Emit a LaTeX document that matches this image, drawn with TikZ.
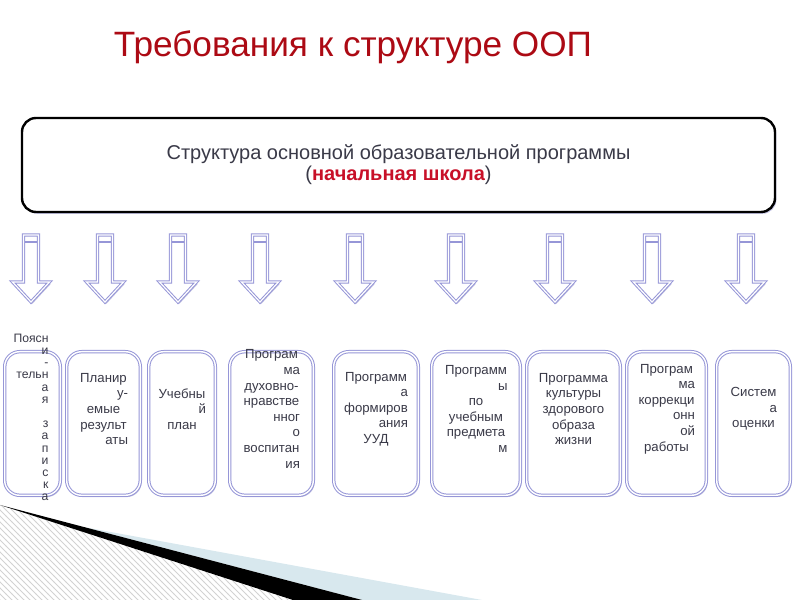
\documentclass[tikz,border=0pt]{standalone}
\usepackage{fontspec}
\setmainfont{Liberation Sans}
\usetikzlibrary{positioning, shadows, patterns}

\definecolor{titlered}{RGB}{172,10,20}
\definecolor{schoolred}{RGB}{200,16,40}
\definecolor{textgray}{RGB}{58,58,72}
\definecolor{boxline}{RGB}{150,150,215}
\definecolor{glowblue}{RGB}{100,100,180}
\definecolor{swooshblue}{RGB}{216,232,238}

\tikzset{
    glow/.style={drop shadow={shadow xshift=0.7pt, shadow yshift=-0.9pt, fill=glowblue, opacity=0.4}},
    title text/.style={text=titlered, font=\fontsize{17.6}{20}\selectfont},
    main box/.style={rectangle, rounded corners=7pt, draw=black, line width=1.2pt, fill=white, minimum width=376.5pt, minimum height=47pt, align=center, text=textgray, font=\fontsize{10}{10.5}\selectfont, glow},
    item box/.style={rectangle, rounded corners=7.5pt, draw=boxline, line width=0.5pt, double=white, double distance=0.7pt, fill=white, minimum height=71.8pt, inner sep=0pt, glow},
    item text/.style={align=center, text=textgray, inner sep=0pt, font=\fontsize{6.6}{7.8}\selectfont},
    arrow body/.style={draw=boxline, line width=0.5pt, double=white, double distance=0.6pt, fill=white, line join=miter, glow},
    arrow line/.style={draw=boxline, line width=0.6pt},
    down arrow/.pic={
        \path[arrow body] (-7.5,0) -- (7.5,0) -- (7.5,-47) -- (18.5,-47) -- (0,-67) -- (-18.5,-47) -- (-7.5,-47) -- cycle;
        \draw[arrow line] (-6,-7) -- (6,-7);
    }
}

\begin{document}
\begin{tikzpicture}[x=0.5pt, y=0.5pt]
    \useasboundingbox (0,0) rectangle (800,600);
    % corner swoosh
    \fill[pattern=north west lines, pattern color=gray!35] (0,95) -- (293,0) -- (0,0) -- cycle;
    \fill[swooshblue] (85,72.7) -- (482,0) -- (362,0) -- cycle;
    \fill[black] (0,95) -- (362,0) -- (293,0) -- cycle;

    \node[title text, anchor=base] (title) at (353,543) {Требования к структуре ООП};

    \node[main box] (head) at (398.5,435) {Структура основной образовательной программы\\(\textcolor{schoolred}{\bfseries начальная школа})};

    % arrows
    \pic (arr1) at (31,365) {down arrow};
    \pic (arr2) at (105,365) {down arrow};
    \pic (arr3) at (178,365) {down arrow};
    \pic (arr4) at (260,365) {down arrow};
    \pic (arr5) at (355,365) {down arrow};
    \pic (arr6) at (456,365) {down arrow};
    \pic (arr7) at (555,365) {down arrow};
    \pic (arr8) at (652,365) {down arrow};
    \pic (arr9) at (746,365) {down arrow};

    % boxes
    \node[item box, minimum width=27.8pt] (b1) at (32.5,176.5) {};
    \node[item box, minimum width=36.8pt, right=2.7pt of b1] (b2) {};
    \node[item box, minimum width=33.3pt, right=3.7pt of b2] (b3) {};
    \node[item box, minimum width=41.8pt, right=6.7pt of b3] (b4) {};
    \node[item box, minimum width=42.3pt, right=9.7pt of b4] (b5) {};
    \node[item box, minimum width=44.3pt, right=6.2pt of b5] (b6) {};
    \node[item box, minimum width=46.8pt, right=2.7pt of b6] (b7) {};
    \node[item box, minimum width=39.8pt, right=2.7pt of b7] (b8) {};
    \node[item box, minimum width=36.8pt, right=4.7pt of b8] (b9) {};

    \node[item text, align=right, text width=18pt, font=\fontsize{6.1}{6.1}\selectfont] (t1) at ([xshift=-1pt, yshift=3pt]b1.center)
        {Поясн\\и\\-\\тельн\\а\\я\\\mbox{}\\з\\а\\п\\и\\с\\к\\а};
    \node[item text, text width=24.5pt] (t2) at ([yshift=7.25pt]b2.center)
        {Планир\\\mbox{}\hfill у-\\емые\\результ\\\mbox{}\hfill аты};
    \node[item text, text width=24pt] (t3) at ([yshift=7.25pt]b3.center)
        {Учебны\\\mbox{}\hfill й\\план};
    \node[item text, text width=28.5pt] (t4) at ([yshift=7.25pt]b4.center)
        {Програм\\\mbox{}\hfill ма\\духовно-\\нравстве\\\mbox{}\hfill нног\\\mbox{}\hfill о\hspace{5pt}\\воспитан\\\mbox{}\hfill ия};
    \node[item text, text width=32pt] (t5) at ([yshift=7.25pt]b5.center)
        {Программ\\\mbox{}\hfill а\\формиров\\\mbox{}\hfill ания\\УУД};
    \node[item text, text width=31.5pt] (t6) at ([yshift=7.25pt]b6.center)
        {Программ\\\mbox{}\hfill ы\\по\\учебным\\предмета\\\mbox{}\hfill м};
    \node[item text, text width=35pt] (t7) at ([yshift=7.25pt]b7.center)
        {Программа\\культуры\\здорового\\образа\\жизни};
    \node[item text, text width=28.5pt] (t8) at ([yshift=7.25pt]b8.center)
        {Програм\\\mbox{}\hfill ма\\коррекци\\\mbox{}\hfill онн\\\mbox{}\hfill ой\\работы};
    \node[item text, text width=23.5pt] (t9) at ([yshift=7.25pt]b9.center)
        {Систем\\\mbox{}\hfill а\\оценки};
\end{tikzpicture}
\end{document}
